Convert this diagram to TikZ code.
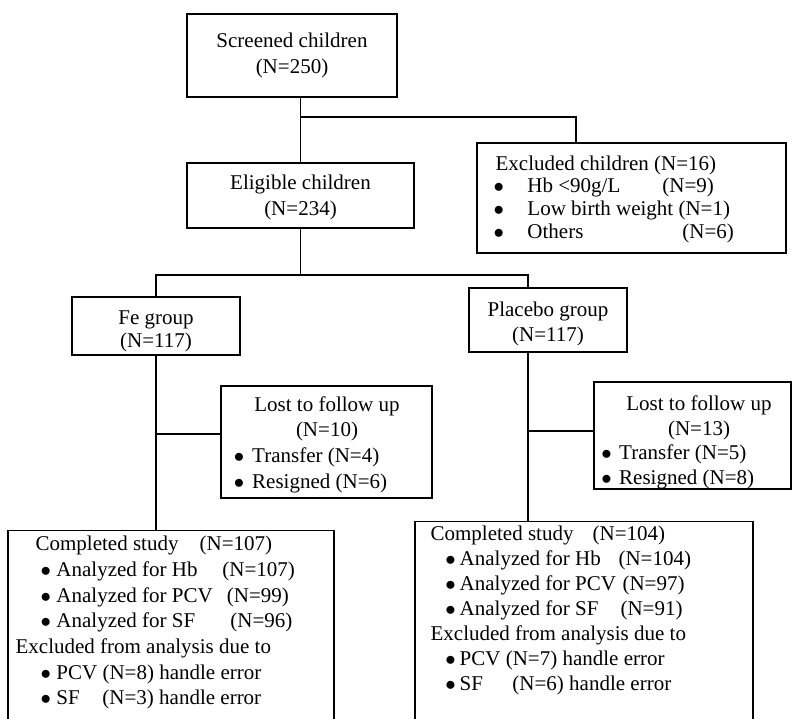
\documentclass[tikz,border=0pt]{standalone}
\usepackage{fontspec}
\setmainfont{Liberation Serif}
\usetikzlibrary{positioning}
\tikzset{
    box/.style={draw, line width=1.2pt, inner sep=0pt, align=center, font=\fontsize{21}{26.5}\selectfont},
    lst/.style={inner sep=0pt, align=left, anchor=north west, font=\fontsize{21}{25.5}\selectfont}
}
\newcommand{\itm}[1]{$\bullet$\hspace*{#1}}
\begin{document}
\begin{tikzpicture}[x=1pt, y=-1pt, line width=1.2pt]
                    \clip (0,0) rectangle (792,718);

                    \node[box, minimum width=210pt, minimum height=83pt] (scr) at (292,55.5) {Screened children\\(N=250)};
                    \node[box, minimum width=227pt, minimum height=65pt] (elig) at (300.5,195.5) {\rule{0pt}{18.5pt}Eligible children\\(N=234)};
                    \node[box, minimum width=309pt, minimum height=110pt] (excl) at (631.5,198) {};
                    \node[lst, font=\fontsize{21}{22.8}\selectfont] (excltxt) at (493,155) {\hspace*{2pt}Excluded children (N=16)\\
                        \itm{23.5pt}\makebox[135pt][l]{Hb <90g/L}(N=9)\\
                        \itm{23.5pt}Low birth weight (N=1)\\
                        \itm{23.5pt}\makebox[155pt][l]{Others}(N=6)};

                    \node[box, minimum width=168pt, minimum height=58pt, font=\fontsize{21}{23}\selectfont] (fe) at (156,326) {\rule{0pt}{24.5pt}Fe group\\(N=117)};
                    \node[box, minimum width=158pt, minimum height=64pt, font=\fontsize{21}{25}\selectfont] (pla) at (548,320) {\rule{0pt}{22.5pt}Placebo group\\(N=117)};

                    \node[box, minimum width=211pt, minimum height=112pt] (felost) at (326.5,442) {};
                    \node[box, draw=none, font=\fontsize{21}{25}\selectfont] (felosttitle) at (327,419) {Lost to follow up\\(N=10)};
                    \node[lst] (felostlist) at (233.25,447.5) {\itm{8pt}Transfer (N=4)\\ \itm{8pt}Resigned (N=6)};

                    \node[box, minimum width=197pt, minimum height=107pt] (plalost) at (692.5,435.5) {};
                    \node[box, draw=none, font=\fontsize{21}{25}\selectfont] (plalosttitle) at (699,417.5) {Lost to follow up\\(N=13)};
                    \node[lst, font=\fontsize{21}{25}\selectfont] (plalostlist) at (600.75,444.5) {\itm{7.5pt}Transfer (N=5)\\ \itm{7.5pt}Resigned (N=8)};

                    \node[box, minimum width=326pt, minimum height=240pt, anchor=north] (fecomp) at (171,530) {};
                    \node[lst, font=\fontsize{21}{25.7}\selectfont] (fecomptxt) at (15,535.5) {\hspace*{20pt}\makebox[164pt][l]{Completed study}(N=107)\\
                        \hspace*{25pt}\itm{5.5pt}\makebox[166pt][l]{Analyzed for Hb}(N=107)\\
                        \hspace*{25pt}\itm{5.5pt}\makebox[170.4pt][l]{Analyzed for PCV}(N=99)\\
                        \hspace*{25pt}\itm{5.5pt}\makebox[174pt][l]{Analyzed for SF}(N=96)\\
                        Excluded from analysis due to\\
                        \hspace*{25pt}\itm{5.5pt}PCV (N=8) handle error\\
                        \hspace*{25pt}\itm{5.5pt}\makebox[46pt][l]{SF}(N=3) handle error};

                    \node[box, minimum width=338pt, minimum height=250pt, anchor=north] (placomp) at (584,521) {};
                    \node[lst, font=\fontsize{21}{25}\selectfont] (placomptxt) at (430,525.5) {\makebox[162pt][l]{Completed study}(N=104)\\
                        \hspace*{14.75pt}\itm{4pt}\makebox[158.8pt][l]{Analyzed for Hb}(N=104)\\
                        \hspace*{14.75pt}\itm{4pt}\makebox[162.8pt][l]{Analyzed for PCV}(N=97)\\
                        \hspace*{14.75pt}\itm{4pt}\makebox[160.8pt][l]{Analyzed for SF}(N=91)\\
                        Excluded from analysis due to\\
                        \hspace*{14.75pt}\itm{4pt}PCV (N=7) handle error\\
                        \hspace*{14.75pt}\itm{4pt}\makebox[52.8pt][l]{SF}(N=6) handle error};

                    \coordinate (j1) at (elig.north |- 0,117);
                    \coordinate (j2) at (elig.south |- 0,275);
                    \coordinate (pdrop) at ([xshift=-20pt]pla.south);

                    \draw (elig.north |- scr.south) -- (elig.north);
                    \draw (j1) -| ([xshift=-55.5pt]excl.north);
                    \draw (elig.south) -- (j2);
                    \draw (fe.north) |- (j2) -| ([xshift=-20pt]pla.north);
                    \draw (fe.south) -- (fe.south |- fecomp.north);
                    \draw (fe.south |- felost.west) ++(0,-8) -- ([yshift=8pt]felost.west);
                    \draw (pdrop) -- (pdrop |- placomp.north);
                    \draw (pdrop |- plalost.west) ++(0,-4.5) -- ([yshift=4.5pt]plalost.west);
                \end{tikzpicture}
\end{document}
